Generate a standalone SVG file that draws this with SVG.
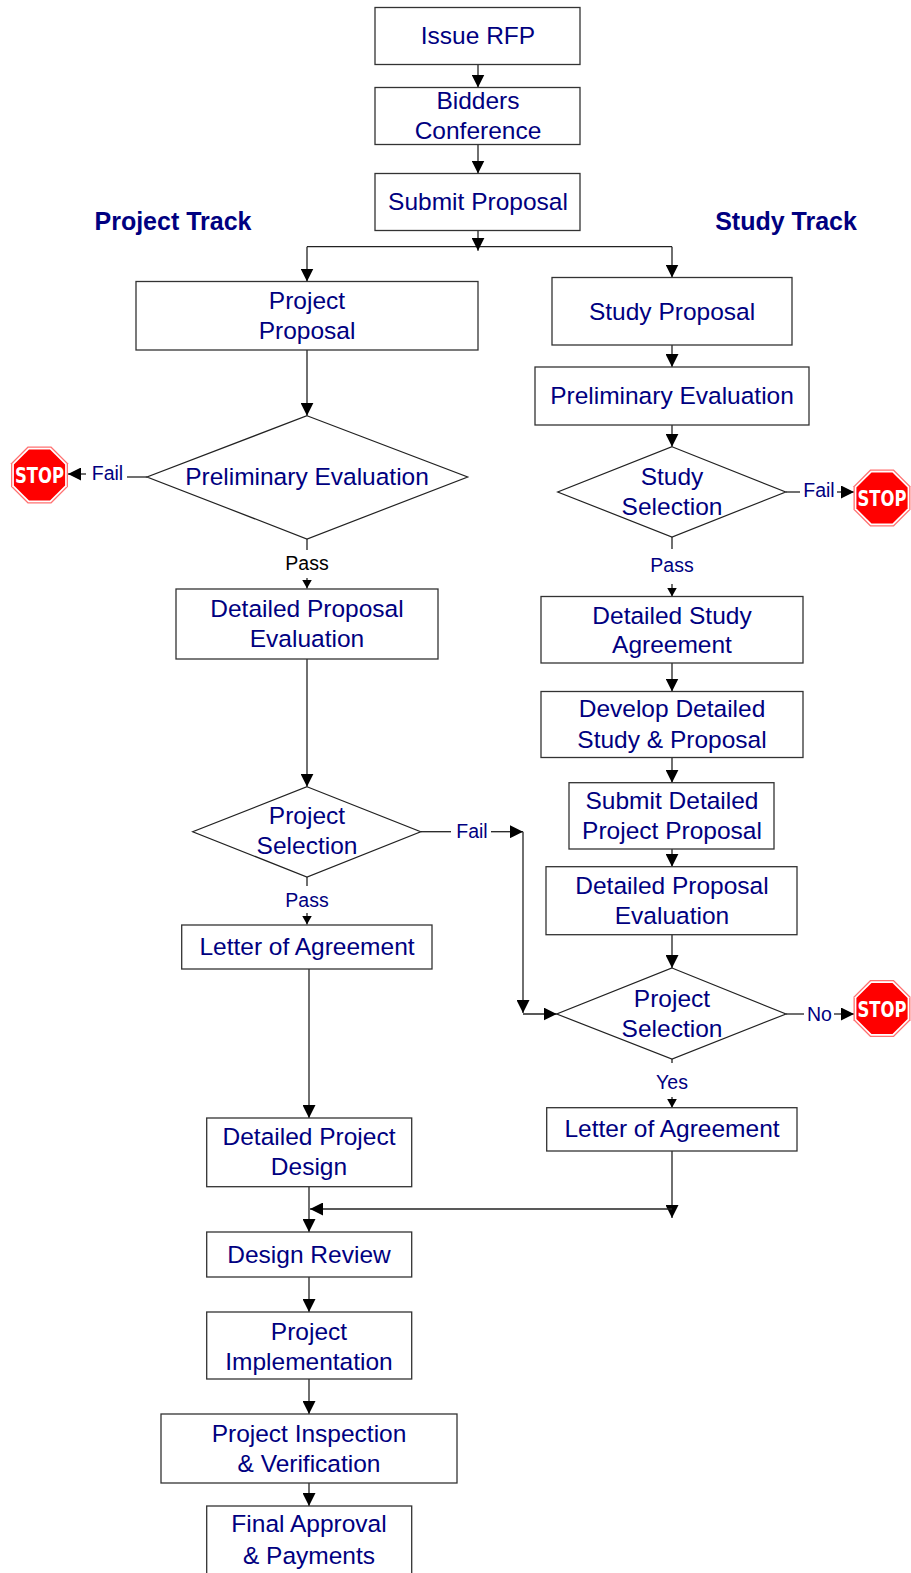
<svg xmlns="http://www.w3.org/2000/svg" width="911" height="1573" viewBox="0 0 911 1573">
<defs>
<style>
.box{fill:#fff;stroke:#333;stroke-width:1.3}
.dia{fill:#fff;stroke:#222;stroke-width:1.2}
.t{font-family:"Liberation Sans",Arial,sans-serif;font-size:24.5px;fill:#000080;text-anchor:middle}
.h{font-family:"Liberation Sans",Arial,sans-serif;font-size:25px;font-weight:bold;fill:#000080;text-anchor:middle}
.l{font-family:"Liberation Sans",Arial,sans-serif;font-size:19.5px;fill:#000080;text-anchor:middle}
.c{fill:none;stroke:#222;stroke-width:1.3}
.a{marker-end:url(#arr)}
.s{marker-end:url(#arrs)}
.stopt{font-family:"Liberation Sans Narrow","DejaVu Sans Condensed","Liberation Sans",sans-serif;font-size:22px;font-weight:bold;fill:#fff;text-anchor:middle}
</style>
<marker id="arr" viewBox="0 0 13 13" markerWidth="13" markerHeight="13" refX="13" refY="6.5" orient="auto" markerUnits="userSpaceOnUse">
<path d="M0,0 L13,6.5 L0,13 z" fill="#000"/>
</marker>
<marker id="arrs" viewBox="0 0 9 10" markerWidth="9" markerHeight="10" refX="9" refY="5" orient="auto" markerUnits="userSpaceOnUse">
<path d="M0,0 L9,5 L0,10 z" fill="#000"/>
</marker>
<g id="stop">
<polygon points="-11.8,-28.5 11.8,-28.5 28.5,-11.8 28.5,11.8 11.8,28.5 -11.8,28.5 -28.5,11.8 -28.5,-11.8" fill="#ff7070"/>
<polygon points="-11.2,-27.2 11.2,-27.2 27.2,-11.2 27.2,11.2 11.2,27.2 -11.2,27.2 -27.2,11.2 -27.2,-11.2" fill="#fff"/>
<polygon points="-10.5,-25.6 10.5,-25.6 25.6,-10.5 25.6,10.5 10.5,25.6 -10.5,25.6 -25.6,10.5 -25.6,-10.5" fill="#ff0000"/>
<text class="stopt" x="0" y="8" textLength="49" lengthAdjust="spacingAndGlyphs">STOP</text>
</g>
</defs>
<rect width="911" height="1573" fill="#fff"/>

<g id="connectors">
<path class="c a" d="M478,64.5 V87.5"/>
<path class="c a" d="M478,144.5 V173.5"/>
<path class="c" d="M307,246.7 H672"/>
<path class="c a" d="M478,230.5 V250.7"/>
<path class="c a" d="M307,246.7 V281.5"/>
<path class="c a" d="M672,246.7 V277.5"/>
<path class="c a" d="M307,350 V415.7"/>
<path class="c" d="M147,477 H127"/>
<path class="c a" d="M86,474 H68"/>
<path class="c" d="M307,539 V550"/>
<path class="c s" d="M307,578 V588.5"/>
<path class="c a" d="M307,659 V786.7"/>
<path class="c" d="M420.7,831.7 H451"/>
<path class="c a" d="M491,831.7 H523"/>
<path class="c a" d="M523,831.7 V1013"/>
<path class="c a" d="M523,1014 H556.7"/>
<path class="c" d="M307,877 V886"/>
<path class="c s" d="M307,913 V924.5"/>
<path class="c a" d="M309,958 V1118"/>
<path class="c a" d="M309,1186.7 V1232"/>
<path class="c a" d="M672,1151 V1218"/>
<path class="c a" d="M672,1209 H310"/>
<path class="c a" d="M309,1277 V1312"/>
<path class="c a" d="M309,1379 V1414"/>
<path class="c a" d="M309,1483 V1506"/>
<path class="c a" d="M672,345 V367"/>
<path class="c a" d="M672,425 V446.7"/>
<path class="c" d="M785.7,492 H800"/>
<path class="c a" d="M837,492 H854"/>
<path class="c" d="M672,537 V549"/>
<path class="c s" d="M672,584 V596.5"/>
<path class="c a" d="M672,663 V691.5"/>
<path class="c a" d="M672,757.5 V782.7"/>
<path class="c a" d="M672,849 V866.7"/>
<path class="c a" d="M672,934.7 V968"/>
<path class="c" d="M786,1014 H804"/>
<path class="c a" d="M834,1014 H854"/>
<path class="c" d="M672,1059 V1063"/>
<path class="c s" d="M672,1097 V1107.7"/>
</g>

<g id="labels">
<text class="l" x="107.5" y="480">Fail</text>
<text class="l" x="307" y="570" style="fill:#000">Pass</text>
<text class="l" x="472" y="838">Fail</text>
<text class="l" x="307" y="907">Pass</text>
<text class="l" x="819" y="497">Fail</text>
<text class="l" x="672" y="572">Pass</text>
<text class="l" x="819.5" y="1021">No</text>
<text class="l" x="672" y="1089">Yes</text>
</g>

<g id="headings">
<text class="h" x="173" y="229.5">Project Track</text>
<text class="h" x="786" y="229.5">Study Track</text>
</g>

<g id="issue-rfp"><rect class="box" x="375" y="7.5" width="205" height="57"/><text class="t" x="478" y="43.5">Issue RFP</text></g>
<g id="bidders-conference"><rect class="box" x="375" y="87.5" width="205" height="57"/><text class="t" x="478" y="108.5">Bidders</text><text class="t" x="478" y="138.5">Conference</text></g>
<g id="submit-proposal"><rect class="box" x="375" y="173.5" width="205" height="57"/><text class="t" x="478" y="209.5">Submit Proposal</text></g>

<g id="project-proposal"><rect class="box" x="136" y="281.5" width="342" height="68.5"/><text class="t" x="307" y="308.5">Project</text><text class="t" x="307" y="338.5">Proposal</text></g>
<g id="prelim-eval-left"><polygon class="dia" points="307,415.7 467.7,477 307,539 147,477"/><text class="t" x="307" y="485">Preliminary Evaluation</text></g>
<g id="stop-left"><use href="#stop" x="39.5" y="475"/></g>
<g id="detailed-proposal-eval-left"><rect class="box" x="176" y="589" width="262" height="70"/><text class="t" x="307" y="616.5">Detailed Proposal</text><text class="t" x="307" y="646.5">Evaluation</text></g>
<g id="project-selection-left"><polygon class="dia" points="307,786.7 420.7,831.7 307,877 192.7,831.7"/><text class="t" x="307" y="823.5">Project</text><text class="t" x="307" y="853.5">Selection</text></g>
<g id="letter-left"><rect class="box" x="181.7" y="925" width="250.3" height="44"/><text class="t" x="307" y="955">Letter of Agreement</text></g>
<g id="detailed-project-design"><rect class="box" x="206.7" y="1118" width="205" height="68.7"/><text class="t" x="309" y="1145">Detailed Project</text><text class="t" x="309" y="1175">Design</text></g>
<g id="design-review"><rect class="box" x="206.7" y="1232" width="205" height="45"/><text class="t" x="309" y="1262.5">Design Review</text></g>
<g id="project-implementation"><rect class="box" x="206.7" y="1312" width="205" height="67"/><text class="t" x="309" y="1339.5">Project</text><text class="t" x="309" y="1369.5">Implementation</text></g>
<g id="inspection"><rect class="box" x="161" y="1414" width="296" height="69"/><text class="t" x="309" y="1441.5">Project Inspection</text><text class="t" x="309" y="1471.5">&amp; Verification</text></g>
<g id="final-approval"><rect class="box" x="206.7" y="1506" width="205" height="80"/><text class="t" x="309" y="1531.5">Final Approval</text><text class="t" x="309" y="1563.5">&amp; Payments</text></g>

<g id="study-proposal"><rect class="box" x="552" y="277.5" width="240" height="67.5"/><text class="t" x="672" y="319.5">Study Proposal</text></g>
<g id="prelim-eval-right"><rect class="box" x="535" y="367" width="274" height="58"/><text class="t" x="672" y="403.5">Preliminary Evaluation</text></g>
<g id="study-selection"><polygon class="dia" points="672,446.7 785.7,492 672,537 557.7,492"/><text class="t" x="672" y="485">Study</text><text class="t" x="672" y="514.5">Selection</text></g>
<g id="stop-right-1"><use href="#stop" x="882" y="498"/></g>
<g id="detailed-study-agreement"><rect class="box" x="541" y="596.5" width="262" height="66.5"/><text class="t" x="672" y="623.5">Detailed Study</text><text class="t" x="672" y="652.5">Agreement</text></g>
<g id="develop-detailed"><rect class="box" x="541" y="691.5" width="262" height="66"/><text class="t" x="672" y="716.5">Develop Detailed</text><text class="t" x="672" y="747.5">Study &amp; Proposal</text></g>
<g id="submit-detailed"><rect class="box" x="569" y="782.7" width="205" height="66.3"/><text class="t" x="672" y="808.5">Submit Detailed</text><text class="t" x="672" y="839">Project Proposal</text></g>
<g id="detailed-proposal-eval-right"><rect class="box" x="546" y="866.7" width="251" height="68"/><text class="t" x="672" y="893.5">Detailed Proposal</text><text class="t" x="672" y="923.5">Evaluation</text></g>
<g id="project-selection-right"><polygon class="dia" points="672,968 786,1014 672,1059 556.7,1014"/><text class="t" x="672" y="1006.5">Project</text><text class="t" x="672" y="1036.5">Selection</text></g>
<g id="stop-right-2"><use href="#stop" x="882" y="1008.5"/></g>
<g id="letter-right"><rect class="box" x="546.7" y="1107.7" width="250.3" height="43.3"/><text class="t" x="672" y="1136.5">Letter of Agreement</text></g>
</svg>
